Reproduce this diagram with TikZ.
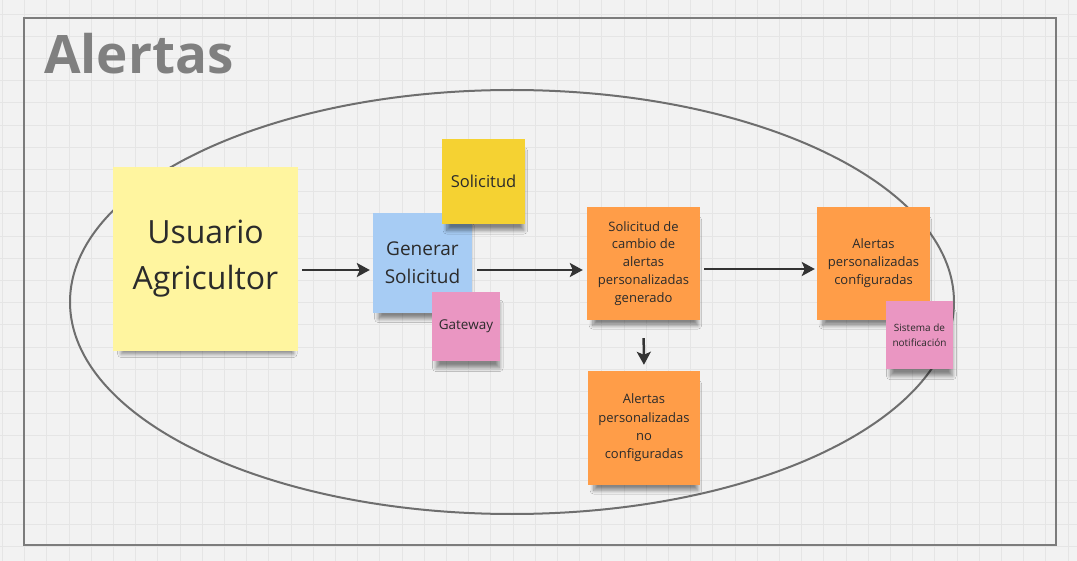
\documentclass[tikz,border=0pt]{standalone}
\usepackage{fontspec}
\setmainfont{Open Sans}
\usetikzlibrary{arrows.meta,shadows.blur}

\definecolor{boardbg}{HTML}{F2F2F2}
\definecolor{boardgrid}{HTML}{E5E5E5}
\definecolor{framegray}{HTML}{7C7C7C}
\definecolor{titlegray}{HTML}{808080}
\definecolor{ringgray}{HTML}{6E6E6E}
\definecolor{inkdark}{HTML}{2B2B2B}
\definecolor{arrowdark}{HTML}{333333}
\definecolor{paleyellow}{HTML}{FFF59F}
\definecolor{noteblue}{HTML}{A7CCF4}
\definecolor{noteyellow}{HTML}{F5D232}
\definecolor{notepink}{HTML}{EA96C2}
\definecolor{noteorange}{HTML}{FF9D48}

\begin{document}
\begin{tikzpicture}[
    x=1pt, y=-1pt,
    sticky/.style={inner sep=0pt, align=center, text=inkdark,
        blur shadow={shadow xshift=2pt, shadow yshift=-10pt, shadow opacity=45, shadow scale=0.93,
            shadow blur radius=4pt, shadow blur steps=10}},
    flow/.style={->, line width=2.5pt, draw=arrowdark},
    >={Stealth[length=13pt, width=14pt, inset=3pt]}
]
    % board background and grid
    \useasboundingbox (0,0) rectangle (1077,561);
    \fill[boardbg] (0,0) rectangle (1077,561);
    \foreach \gx in {0,...,48}
        \draw[boardgrid, line width=0.8pt] (2.3+22.2*\gx,0) -- (2.3+22.2*\gx,561);
    \foreach \gy in {0,...,25}
        \draw[boardgrid, line width=0.8pt] (0,14+22.2*\gy) -- (1077,14+22.2*\gy);

    % 1. Frame, title and ring
    \draw[framegray, line width=2.5pt] (24,18) rectangle (1056,545);
    \node[anchor=base west, inner sep=0pt, text=titlegray, font=\fontsize{53}{60}\selectfont\bfseries] (title) at (44,74) {Alertas};
    \draw[ringgray, line width=2pt] (512,302) ellipse [x radius=442pt, y radius=212pt];

    % 2. Sticky notes
    \node[sticky, fill=paleyellow, minimum width=185pt, minimum height=184pt, font=\fontsize{32}{46}\selectfont] (user) at (205.5,259) {Usuario\\Agricultor};
    \node[sticky, fill=noteblue, minimum width=99pt, minimum height=100pt, font=\fontsize{19}{28}\selectfont] (gen) at (422.5,263) {Generar\\Solicitud};
    \node[sticky, fill=noteyellow, minimum width=83pt, minimum height=85pt, font=\fontsize{16.5}{20}\selectfont] (sol) at (483.5,181.5) {Solicitud};
    \node[sticky, fill=notepink, minimum width=68pt, minimum height=69pt, font=\fontsize{13.5}{17}\selectfont] (gw) at (466,326.5) {Gateway};

    \node[sticky, fill=noteorange, minimum width=113pt, minimum height=113pt, font=\fontsize{13}{17.9}\selectfont] (cambio) at (643.5,263.5) {Solicitud de\\cambio de\\alertas\\personalizadas\\generado};
    \node[sticky, fill=noteorange, minimum width=113pt, minimum height=113pt, font=\fontsize{13}{17.9}\selectfont] (conf) at (873.5,263.5) {Alertas\\personalizadas\\configuradas};
    \node[sticky, fill=notepink, minimum width=67pt, minimum height=68pt, font=\fontsize{10}{14.7}\selectfont] (sis) at (919.5,335) {Sistema de\\notificación};
    \node[sticky, fill=noteorange, minimum width=112pt, minimum height=114pt, font=\fontsize{13}{18.3}\selectfont] (noconf) at (644,428) {Alertas\\personalizadas\\no\\configuradas};

    % 3. Arrows
    \draw[flow, shorten <=4pt, shorten >=3pt] ([yshift=-11pt]user.east) -- ([yshift=-7pt]gen.west);
    \draw[flow, shorten <=5pt, shorten >=4pt] ([yshift=-7pt]gen.east) -- ([yshift=-6.5pt]cambio.west);
    \draw[flow, shorten <=4pt, shorten >=2pt] ([yshift=-5.5pt]cambio.east) -- ([yshift=-5.5pt]conf.west);
    \draw[flow, shorten <=18pt, shorten >=6pt] (cambio.south) -- (noconf.north);

\end{tikzpicture}
\end{document}
